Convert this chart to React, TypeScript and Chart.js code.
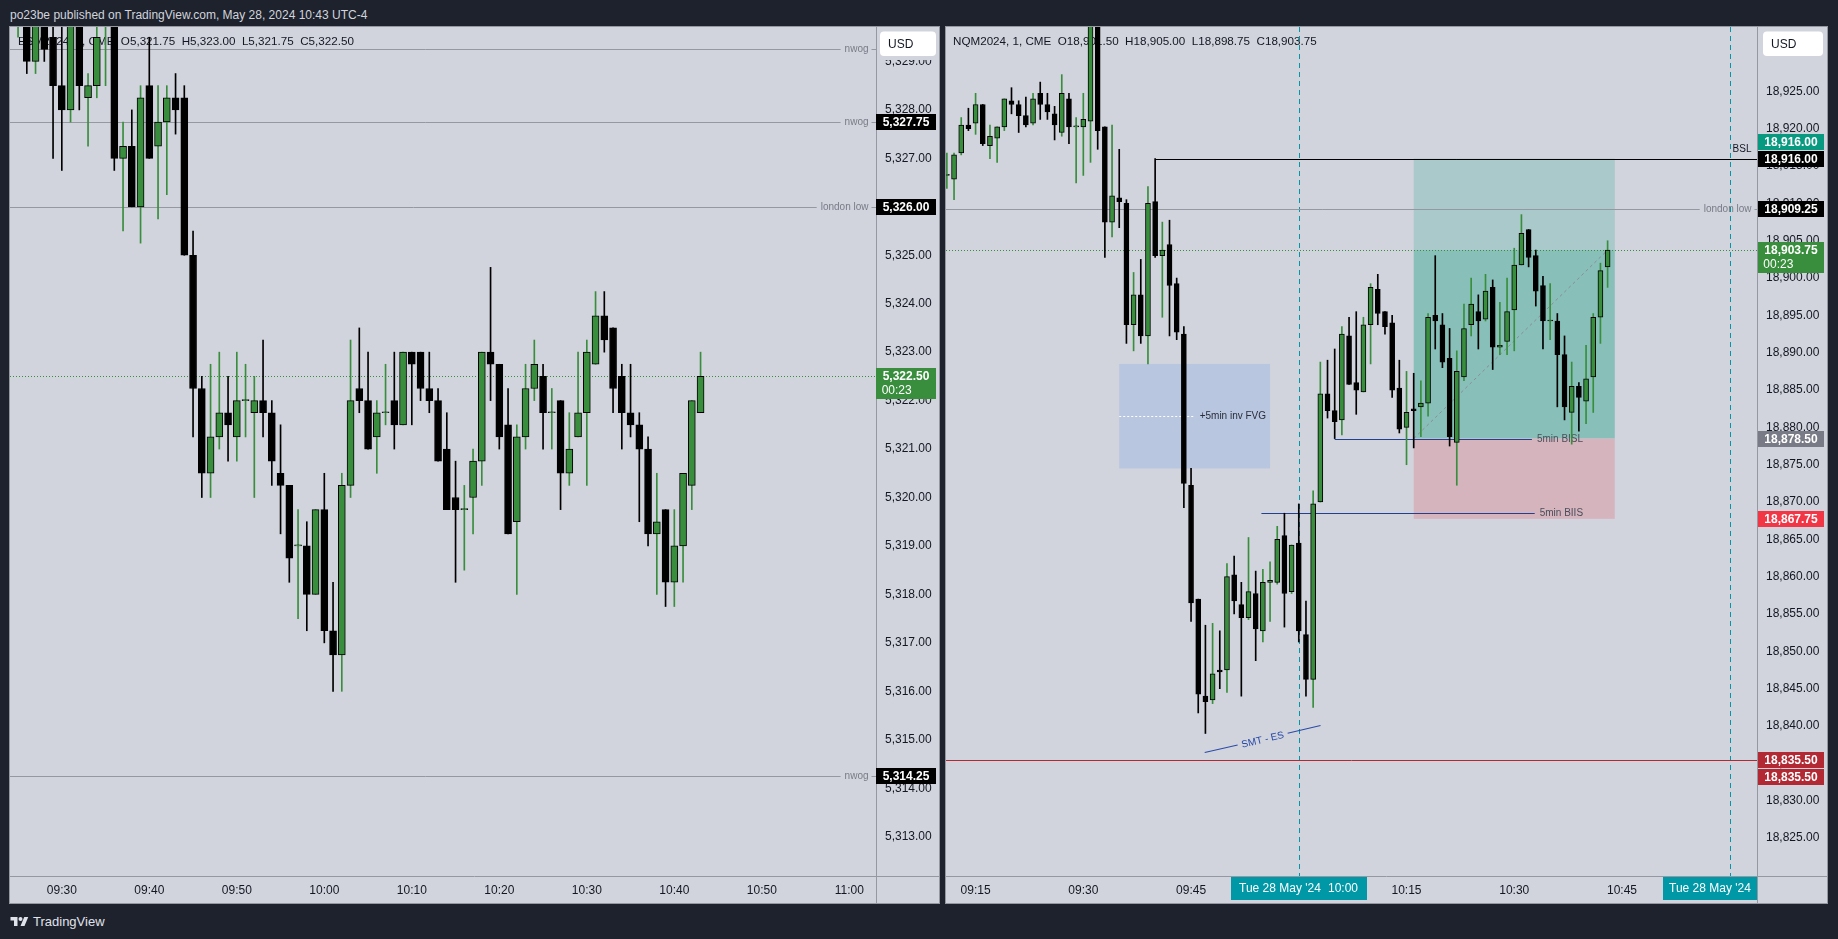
import React, { useEffect, useRef } from "react";
import { Chart, registerables } from "chart.js";

Chart.register(...registerables);

const FONT = '"Liberation Sans", Arial, sans-serif';
const PANE_BG = "#d1d4dc";
const PAGE_BG = "#1e222d";
const UP = "#388e3c";
const DOWN = "#000000";
const TEXT = "#131722";
const FRAME = "#9598a1";
const LEVEL = "#9598a1";
const LEVEL_TEXT = "#787b86";

// ---------------- ES (left pane), 1-minute, first bar 09:25 ----------------
const esStartMinute = 25; // minutes after 09:00
const esOpen = [
  5330.0, 5330.5, 5329.0, 5330.25, 5329.5, 5328.5, 5328.0, 5330.0, 5328.25, 5328.5,
  5330.0, 5330.75, 5327.0, 5327.25, 5326.0, 5328.5, 5327.25, 5327.75, 5328.25, 5328.25,
  5325.0, 5322.25, 5320.5, 5321.25, 5321.75, 5321.25, 5322.0, 5321.75, 5322.0, 5321.75,
  5320.5, 5320.25, 5319.0, 5319.0, 5318.0, 5319.75, 5317.25, 5316.75, 5320.25, 5322.25,
  5322.0, 5321.25, 5321.75, 5322.0, 5321.5, 5323.0, 5323.0, 5322.25, 5322.0, 5321.0,
  5320.0, 5319.75, 5320.0, 5320.75, 5323.0, 5322.75, 5321.5, 5319.5, 5321.25, 5322.25,
  5322.5, 5321.75, 5322.0, 5320.5, 5321.25, 5321.75, 5322.75, 5323.75, 5323.5, 5322.5,
  5321.75, 5321.5, 5321.0, 5319.25, 5319.75, 5318.25, 5319.0, 5320.25, 5321.75,
];
const esHigh = [
  5330.75, 5330.75, 5330.5, 5330.5, 5330.0, 5330.0, 5330.25, 5330.25, 5328.75, 5329.75,
  5331.0, 5331.0, 5327.75, 5328.0, 5328.5, 5329.5, 5328.5, 5328.5, 5328.75, 5328.5,
  5325.5, 5322.5, 5322.75, 5323.0, 5322.5, 5323.0, 5322.75, 5322.5, 5323.25, 5322.0,
  5321.5, 5320.25, 5319.75, 5319.5, 5319.75, 5320.5, 5318.25, 5320.5, 5323.25, 5323.5,
  5323.0, 5322.0, 5322.75, 5323.0, 5323.0, 5323.0, 5323.0, 5323.0, 5322.25, 5321.75,
  5320.75, 5320.25, 5321.0, 5323.0, 5324.75, 5322.75, 5322.25, 5321.5, 5322.75, 5323.25,
  5322.75, 5322.25, 5322.0, 5321.75, 5323.0, 5323.25, 5324.25, 5324.25, 5323.5, 5322.75,
  5322.75, 5321.75, 5321.25, 5320.5, 5319.75, 5319.75, 5320.5, 5322.0, 5323.0,
];
const esLow = [
  5329.5, 5328.75, 5328.75, 5329.0, 5327.0, 5326.75, 5327.75, 5328.0, 5327.25, 5328.25,
  5328.5, 5326.75, 5325.5, 5326.0, 5325.25, 5327.0, 5325.75, 5326.25, 5327.5, 5325.0,
  5321.25, 5320.0, 5320.0, 5321.0, 5320.75, 5320.75, 5321.25, 5320.0, 5321.25, 5320.25,
  5319.25, 5318.25, 5317.5, 5317.25, 5318.0, 5317.0, 5316.0, 5316.0, 5320.0, 5321.75,
  5321.0, 5320.5, 5321.5, 5321.0, 5321.5, 5321.5, 5322.0, 5321.75, 5320.75, 5319.75,
  5318.25, 5318.5, 5319.25, 5320.25, 5322.0, 5321.0, 5319.25, 5318.0, 5321.0, 5322.0,
  5321.0, 5321.0, 5319.75, 5320.25, 5321.25, 5320.25, 5322.75, 5323.0, 5321.75, 5321.0,
  5321.25, 5319.5, 5319.0, 5318.0, 5317.75, 5317.75, 5318.25, 5319.75, 5321.75,
];
const esClose = [
  5330.5, 5329.0, 5330.25, 5329.25, 5328.5, 5328.0, 5330.0, 5328.5, 5328.5, 5329.5,
  5330.75, 5327.0, 5327.25, 5326.0, 5328.25, 5327.0, 5327.75, 5328.25, 5328.0, 5325.0,
  5322.25, 5320.5, 5321.25, 5321.75, 5321.5, 5322.0, 5322.0, 5322.0, 5321.75, 5320.75,
  5320.25, 5318.75, 5319.0, 5318.0, 5319.75, 5317.25, 5316.75, 5320.25, 5322.0, 5322.0,
  5321.0, 5321.75, 5321.75, 5321.5, 5323.0, 5322.75, 5322.25, 5322.0, 5320.75, 5319.75,
  5319.75, 5319.75, 5320.75, 5323.0, 5322.75, 5321.25, 5319.25, 5321.25, 5322.25, 5322.75,
  5321.75, 5321.75, 5320.5, 5321.0, 5321.75, 5323.0, 5323.75, 5323.25, 5322.25, 5321.75,
  5321.5, 5321.0, 5319.25, 5319.5, 5318.25, 5319.0, 5320.5, 5322.0, 5322.5,
];
const esTimeTicks = [30, 40, 50, 60, 70, 80, 90, 100, 110, 120];
const esPriceTicks = [
  5313, 5314, 5315, 5316, 5317, 5318, 5319, 5320, 5321, 5322, 5323, 5324, 5325, 5326, 5327, 5328, 5329,
];
const esNwogLevels = [5329.25, 5327.75, 5314.25];
const esNwogBoxes = [5327.75, 5314.25];
const esLondonLow = 5326.0;

// ---------------- NQ (right pane), 1-minute, first bar 09:11 ----------------
const nqStartMinute = 11;
const nqOpen = [
  18913.75, 18913.25, 18916.75, 18920.5, 18920.75, 18923.25, 18917.75, 18918.75, 18920.25, 18923.75,
  18923.25, 18921.75, 18920.75, 18924.75, 18923.25, 18922.0, 18919.5, 18924.0, 18920.25, 18920.25,
  18921.0, 18935.5, 18920.25, 18907.5, 18910.75, 18910.0, 18893.75, 18897.75, 18892.25, 18910.25,
  18903.0, 18904.5, 18899.25, 18892.5, 18872.25, 18857.0, 18844.0, 18843.5, 18847.5, 18847.5,
  18860.25, 18856.25, 18854.5, 18857.75, 18852.75, 18859.25, 18859.25, 18865.5, 18858.0, 18864.5,
  18852.25, 18846.25, 18870.0, 18884.5, 18882.25, 18881.0, 18892.25, 18886.0, 18884.75, 18893.75,
  18898.5, 18895.5, 18894.0, 18885.25, 18880.0, 18882.5, 18882.75, 18883.25, 18895.0, 18893.75,
  18889.25, 18878.0, 18886.75, 18893.75, 18895.5, 18894.5, 18898.75, 18890.75, 18891.5, 18895.75,
  18901.75, 18906.5, 18903.0, 18899.0, 18894.25, 18894.25, 18889.75, 18882.0, 18885.5, 18883.5,
  18886.75, 18894.75, 18901.5,
];
const nqHigh = [
  18916.75, 18916.75, 18921.5, 18922.75, 18924.75, 18923.25, 18920.5, 18920.25, 18924.0, 18925.5,
  18923.75, 18924.25, 18924.75, 18926.25, 18924.75, 18923.0, 18927.25, 18924.75, 18921.5, 18924.75,
  18938.0, 18937.0, 18920.25, 18920.5, 18917.25, 18910.5, 18900.75, 18902.5, 18912.25, 18916.0,
  18907.5, 18907.75, 18900.0, 18893.5, 18874.5, 18857.0, 18853.5, 18853.75, 18852.75, 18861.75,
  18862.75, 18859.25, 18865.25, 18860.75, 18861.0, 18862.0, 18866.75, 18868.5, 18864.25, 18869.75,
  18856.75, 18871.5, 18888.75, 18889.0, 18890.5, 18893.5, 18894.75, 18895.5, 18894.75, 18899.25,
  18900.5, 18895.5, 18895.0, 18889.0, 18887.5, 18887.25, 18886.25, 18895.25, 18903.0, 18895.25,
  18893.25, 18890.25, 18896.5, 18900.0, 18897.75, 18900.5, 18899.75, 18896.75, 18900.0, 18904.0,
  18908.5, 18906.5, 18903.75, 18900.25, 18899.25, 18895.25, 18892.25, 18888.75, 18886.0, 18891.0,
  18895.25, 18902.0, 18905.0,
];
const nqLow = [
  18912.0, 18910.5, 18916.5, 18919.75, 18919.25, 18917.75, 18916.0, 18915.5, 18919.75, 18922.0,
  18919.5, 18920.25, 18920.5, 18921.25, 18921.25, 18918.5, 18919.0, 18918.0, 18912.75, 18913.75,
  18915.5, 18917.25, 18902.75, 18905.5, 18906.75, 18891.25, 18890.25, 18891.25, 18888.5, 18902.75,
  18894.75, 18892.25, 18891.75, 18869.25, 18854.0, 18841.75, 18839.0, 18843.0, 18845.0, 18844.5,
  18855.0, 18844.0, 18854.25, 18848.75, 18851.25, 18854.0, 18859.0, 18853.25, 18857.75, 18851.25,
  18844.0, 18842.5, 18870.0, 18881.25, 18878.5, 18879.0, 18885.75, 18881.75, 18884.75, 18888.5,
  18893.75, 18892.5, 18884.0, 18879.25, 18875.0, 18877.25, 18878.75, 18881.5, 18890.5, 18888.0,
  18877.5, 18872.25, 18886.25, 18892.25, 18890.5, 18894.25, 18887.75, 18889.75, 18889.75, 18890.25,
  18901.75, 18901.5, 18896.25, 18890.5, 18891.75, 18882.75, 18881.0, 18877.75, 18879.5, 18880.5,
  18882.0, 18891.25, 18898.75,
];
const nqClose = [
  18913.75, 18916.5, 18920.5, 18920.0, 18923.25, 18918.0, 18919.0, 18920.25, 18924.0, 18923.25,
  18921.75, 18920.5, 18924.0, 18923.25, 18922.25, 18920.5, 18924.75, 18920.25, 18920.25, 18921.25,
  18936.0, 18919.75, 18907.5, 18911.0, 18910.25, 18893.75, 18897.75, 18892.25, 18910.0, 18903.0,
  18903.75, 18899.0, 18892.75, 18872.5, 18856.5, 18844.25, 18843.25, 18847.0, 18847.25, 18860.0,
  18856.75, 18854.5, 18858.0, 18853.0, 18859.25, 18859.5, 18865.0, 18857.75, 18864.25, 18852.75,
  18846.25, 18869.75, 18884.5, 18882.25, 18880.75, 18892.5, 18885.75, 18885.0, 18893.75, 18898.75,
  18895.25, 18893.5, 18885.0, 18879.75, 18882.0, 18882.25, 18883.25, 18894.75, 18894.25, 18888.75,
  18878.75, 18887.5, 18893.25, 18896.5, 18894.25, 18898.25, 18890.75, 18891.0, 18895.5, 18901.75,
  18906.0, 18902.75, 18898.25, 18894.25, 18894.25, 18889.75, 18882.75, 18885.5, 18884.0, 18886.5,
  18894.75, 18901.0, 18903.75,
];
const nqTimeTicks = [15, 30, 45, 60, 75, 90, 105, 120];
const nqPriceTicks = [
  18825, 18830, 18835, 18840, 18845, 18850, 18855, 18860, 18865, 18870, 18875, 18880, 18885, 18890,
  18895, 18900, 18905, 18910, 18915, 18920, 18925,
];
const nqLondonLow = 18909.25;
const nqBsl = 18916.0;
const nqBslStartMinute = 40;
const nqRedLevel = 18835.5;
const nqBisl = 18878.5;
const nqBislStartMinute = 65;
const nqBiis = 18868.5;
const nqBiisStartMinute = 54.8;
const nqLabelEndMinute = 100;
const nqFvgMinutes = [35, 56];
const nqFvgPrices = [18888.5, 18874.5];
const nqPosMinutes = [76, 104];
const nqPosTarget = 18916.0;
const nqPosEntry = 18878.5;
const nqPosStop = 18867.75;
const nqSmtMinutes = [46.9, 63.03];
const nqSmtPrices = [18836.44, 18840.06];
const nqSessionMinutes = [60, 120];
const countdown = "00:23";

// ---------------- helpers ----------------
const fmt = (v: number) =>
  v.toLocaleString("en-US", { minimumFractionDigits: 2, maximumFractionDigits: 2 });
const hhmm = (m: number) => {
  const h = 9 + Math.floor(m / 60);
  const mm = Math.round(m % 60);
  return `${String(h).padStart(2, "0")}:${String(mm).padStart(2, "0")}`;
};

function candleDatasets(start: number, o: number[], h: number[], l: number[], c: number[], bodyW: number) {
  const up = o.map((v, i) => c[i] >= v);
  return [
    {
      type: "bar",
      label: "wick",
      data: o.map((_, i) => ({ x: start + i, y: [l[i], h[i]] })),
      backgroundColor: up.map((u) => (u ? UP : DOWN)),
      borderWidth: 0,
      barThickness: 1,
      grouped: false,
      order: 2,
    },
    {
      type: "bar",
      label: "body",
      data: o.map((v, i) => ({ x: start + i, y: [Math.min(v, c[i]), Math.max(v, c[i])] })),
      backgroundColor: up.map((u) => (u ? UP : DOWN)),
      borderColor: DOWN,
      borderWidth: 1,
      borderSkipped: false,
      barThickness: bodyW,
      minBarLength: 1,
      grouped: false,
      order: 1,
    },
  ];
}

function seg(ctx: CanvasRenderingContext2D, x0: number, y0: number, x1: number, y1: number) {
  ctx.beginPath();
  ctx.moveTo(x0, y0);
  ctx.lineTo(x1, y1);
  ctx.stroke();
}

function levelLine(
  ctx: CanvasRenderingContext2D,
  x0: number,
  x1: number,
  y: number,
  color: string,
  label?: string,
  labelColor?: string,
  rightPad = 7
) {
  const yy = Math.round(y) + 0.5;
  ctx.strokeStyle = color;
  ctx.lineWidth = 1;
  ctx.setLineDash([]);
  if (label) {
    ctx.font = `10px ${FONT}`;
    const w = ctx.measureText(label).width;
    const tr = x1 - rightPad;
    const tl = tr - w;
    seg(ctx, x0, yy, tl - 4, yy);
    seg(ctx, tr + 3, yy, x1, yy);
    ctx.fillStyle = labelColor || color;
    ctx.textAlign = "right";
    ctx.textBaseline = "middle";
    ctx.fillText(label, tr, yy);
  } else {
    seg(ctx, x0, yy, x1, yy);
  }
}

function dottedLine(ctx: CanvasRenderingContext2D, x0: number, x1: number, y: number, color: string) {
  const yy = Math.round(y) + 0.5;
  ctx.strokeStyle = color;
  ctx.lineWidth = 1;
  ctx.setLineDash([1, 2]);
  seg(ctx, x0, yy, x1, yy);
  ctx.setLineDash([]);
}

function priceBox(
  ctx: CanvasRenderingContext2D,
  x0: number,
  x1: number,
  yc: number,
  text: string,
  bg: string,
  fg: string,
  sub?: string
) {
  const top = Math.round(yc) - 8;
  const h = sub ? 31 : 16;
  ctx.fillStyle = bg;
  ctx.fillRect(x0, top, x1 - x0, h);
  ctx.fillStyle = fg;
  ctx.font = `bold 12px ${FONT}`;
  ctx.textAlign = "center";
  ctx.textBaseline = "middle";
  ctx.fillText(text, (x0 + x1) / 2, top + 8.5);
  if (sub) {
    ctx.font = `12px ${FONT}`;
    ctx.textAlign = "left";
    ctx.fillText(sub, (x0 + x1) / 2 - ctx.measureText(text).width / 2 - 1, top + 23);
  }
}

function usdBox(ctx: CanvasRenderingContext2D, axisLeft: number, axisRight: number, x0: number, x1: number, y0: number, y1: number) {
  // the price scale hides labels sitting right under the currency button
  ctx.fillStyle = PANE_BG;
  ctx.fillRect(axisLeft + 1, 1, axisRight - axisLeft - 2, y1 + 3);
  ctx.fillStyle = "#ffffff";
  ctx.beginPath();
  (ctx as any).roundRect(x0, y0, x1 - x0, y1 - y0, 4);
  ctx.fill();
  ctx.fillStyle = TEXT;
  ctx.font = `12px ${FONT}`;
  ctx.textAlign = "left";
  ctx.textBaseline = "middle";
  ctx.fillText("USD", x0 + 8, (y0 + y1) / 2 + 0.5);
}

function frame(chart: any, ctx: CanvasRenderingContext2D) {
  const a = chart.chartArea;
  const W = chart.width;
  const H = chart.height;
  ctx.strokeStyle = FRAME;
  ctx.lineWidth = 1;
  ctx.setLineDash([]);
  ctx.strokeRect(0.5, 0.5, W - 1, H - 1);
  seg(ctx, Math.round(a.right) + 0.5, 0, Math.round(a.right) + 0.5, H);
  seg(ctx, 0, Math.round(a.bottom) + 0.5, W, Math.round(a.bottom) + 0.5);
}

function decorPlugin(under: (c: any, ctx: CanvasRenderingContext2D) => void, over: (c: any, ctx: CanvasRenderingContext2D) => void) {
  return {
    id: "decor",
    beforeDraw(chart: any) {
      const ctx = chart.ctx;
      ctx.save();
      ctx.fillStyle = PANE_BG;
      ctx.fillRect(0, 0, chart.width, chart.height);
      ctx.restore();
    },
    beforeDatasetsDraw(chart: any) {
      const ctx = chart.ctx;
      const a = chart.chartArea;
      ctx.save();
      ctx.beginPath();
      ctx.rect(a.left, a.top, a.right - a.left, a.bottom - a.top);
      ctx.clip();
      under(chart, ctx);
      ctx.restore();
    },
    afterDraw(chart: any) {
      const ctx = chart.ctx;
      ctx.save();
      over(chart, ctx);
      ctx.restore();
    },
  };
}

function legendText(sym: string, o: number[], h: number[], l: number[], c: number[]) {
  const i = o.length - 1;
  return `${sym}  O${fmt(o[i])}  H${fmt(h[i])}  L${fmt(l[i])}  C${fmt(c[i])}`;
}

function baseOptions(xMin: number, xMax: number, xTicks: number[], yMin: number, yMax: number, yTicks: number[], yWidth: number) {
  return {
    animation: false,
    responsive: false,
    devicePixelRatio: 1,
    events: [],
    layout: { padding: { left: 1, top: 1, right: 0, bottom: 1 } },
    plugins: { legend: { display: false }, tooltip: { enabled: false } },
    scales: {
      x: {
        type: "linear",
        min: xMin,
        max: xMax,
        offset: false,
        grid: { display: false, drawTicks: false },
        border: { display: false },
        afterBuildTicks: (s: any) => {
          s.ticks = xTicks.map((v) => ({ value: v }));
        },
        afterFit: (s: any) => {
          s.height = 27;
          s.paddingLeft = 0;
          s.paddingRight = 0;
          s.paddingTop = 0;
          s.paddingBottom = 0;
        },
        ticks: {
          callback: (v: any) => hhmm(Number(v)),
          font: { family: FONT, size: 12 },
          color: TEXT,
          padding: 7,
          maxRotation: 0,
          autoSkip: false,
        },
      },
      y: {
        type: "linear",
        position: "right",
        min: yMin,
        max: yMax,
        beginAtZero: false,
        grid: { display: false, drawTicks: false },
        border: { display: false },
        afterBuildTicks: (s: any) => {
          s.ticks = yTicks.map((v) => ({ value: v }));
        },
        afterFit: (s: any) => {
          s.width = yWidth;
          s.paddingLeft = 0;
          s.paddingRight = 0;
          s.paddingTop = 0;
          s.paddingBottom = 0;
        },
        ticks: {
          callback: (v: any) => fmt(Number(v)),
          font: { family: FONT, size: 12 },
          color: TEXT,
          padding: 9,
          crossAlign: "center",
          autoSkip: false,
        },
      },
    },
  };
}

// ---------------- ES pane ----------------
function drawEsUnder(chart: any, ctx: CanvasRenderingContext2D) {
  const a = chart.chartArea;
  const Y = (p: number) => chart.scales.y.getPixelForValue(p);
  ctx.font = `11.65px ${FONT}`;
  ctx.fillStyle = TEXT;
  ctx.textAlign = "left";
  ctx.textBaseline = "middle";
  ctx.fillText(legendText("ESM2024, 1, CME", esOpen, esHigh, esLow, esClose), 9, 16);
  esNwogLevels.forEach((p) => levelLine(ctx, a.left, a.right, Y(p), LEVEL, "nwog", LEVEL_TEXT, 7.5));
  levelLine(ctx, a.left, a.right, Y(esLondonLow), LEVEL, "london low", LEVEL_TEXT, 7.5);
  dottedLine(ctx, a.left, a.right, Y(esClose[esClose.length - 1]), UP);
}

function drawEsOver(chart: any, ctx: CanvasRenderingContext2D) {
  const a = chart.chartArea;
  const Y = (p: number) => chart.scales.y.getPixelForValue(p);
  const x0 = Math.round(a.right);
  const x1 = x0 + 60;
  usdBox(ctx, x0, chart.width, x0 + 4, x1, 5.5, 30);
  frame(chart, ctx);
  esNwogBoxes.forEach((p) => priceBox(ctx, x0, x1, Y(p), fmt(p), "#000000", "#ffffff"));
  priceBox(ctx, x0, x1, Y(esLondonLow), fmt(esLondonLow), "#000000", "#ffffff");
  const last = esClose[esClose.length - 1];
  priceBox(ctx, x0, x1, Y(last), fmt(last), UP, "#ffffff", countdown);
}

function buildEs() {
  const opts: any = baseOptions(24.08, 123.05, esTimeTicks, 5312.188, 5329.711, esPriceTicks, 64);
  return {
    type: "bar",
    data: { datasets: candleDatasets(esStartMinute, esOpen, esHigh, esLow, esClose, 7) },
    options: opts,
    plugins: [decorPlugin(drawEsUnder, drawEsOver)],
  };
}

// ---------------- NQ pane ----------------
function drawNqUnder(chart: any, ctx: CanvasRenderingContext2D) {
  const a = chart.chartArea;
  const X = (m: number) => chart.scales.x.getPixelForValue(m);
  const Y = (p: number) => chart.scales.y.getPixelForValue(p);

  ctx.font = `11.65px ${FONT}`;
  ctx.fillStyle = TEXT;
  ctx.textAlign = "left";
  ctx.textBaseline = "middle";
  ctx.fillText(legendText("NQM2024, 1, CME", nqOpen, nqHigh, nqLow, nqClose), 8, 16);

  // FVG box
  const fx0 = X(nqFvgMinutes[0]);
  const fx1 = X(nqFvgMinutes[1]);
  const fy0 = Y(nqFvgPrices[0]);
  const fy1 = Y(nqFvgPrices[1]);
  ctx.fillStyle = "#b8c6e0";
  ctx.fillRect(fx0, fy0, fx1 - fx0, fy1 - fy0);
  ctx.font = `10px ${FONT}`;
  const fvgLabel = "+5min inv FVG";
  const fw = ctx.measureText(fvgLabel).width;
  const fmid = Math.round((fy0 + fy1) / 2) + 0.5;
  ctx.strokeStyle = "#ffffff";
  ctx.setLineDash([2, 2]);
  seg(ctx, fx0, fmid, fx1 - 4 - fw - 5, fmid);
  ctx.setLineDash([]);
  ctx.fillStyle = "#2a2e39";
  ctx.textAlign = "right";
  ctx.textBaseline = "middle";
  ctx.fillText(fvgLabel, fx1 - 4, fmid);

  // Long position tool
  const px0 = X(nqPosMinutes[0]);
  const px1 = X(nqPosMinutes[1]);
  const last = nqClose[nqClose.length - 1];
  ctx.fillStyle = "#a9c9ca";
  ctx.fillRect(px0, Y(nqPosTarget), px1 - px0, Y(last) - Y(nqPosTarget));
  ctx.fillStyle = "#88c0b9";
  ctx.fillRect(px0, Y(last), px1 - px0, Y(nqPosEntry) - Y(last));
  ctx.fillStyle = "#d6b4be";
  ctx.fillRect(px0, Y(nqPosEntry), px1 - px0, Y(nqPosStop) - Y(nqPosEntry));
  ctx.strokeStyle = "#8a8d96";
  ctx.setLineDash([3, 3]);
  seg(ctx, px0, Y(nqPosEntry), X(nqStartMinute + nqClose.length - 1), Y(last));
  ctx.setLineDash([]);

  // Session dashed verticals
  ctx.strokeStyle = "#0097a6";
  ctx.setLineDash([5, 4]);
  nqSessionMinutes.forEach((m) => {
    const x = Math.round(X(m)) + 0.5;
    seg(ctx, x, a.top, x, a.bottom);
  });
  ctx.setLineDash([]);

  // Levels
  levelLine(ctx, a.left, a.right, Y(nqLondonLow), LEVEL, "london low", LEVEL_TEXT, 5.5);
  levelLine(ctx, X(nqBslStartMinute), a.right, Y(nqBsl), "#000000");
  ctx.font = `10px ${FONT}`;
  ctx.fillStyle = TEXT;
  ctx.textAlign = "right";
  ctx.textBaseline = "middle";
  ctx.fillText("BSL", a.right - 5.5, Y(nqBsl) - 9);
  levelLine(ctx, a.left, a.right, Y(nqRedLevel), "#b22833");

  // BISL / BIIS lines
  const labelled = (startM: number, p: number, text: string) => {
    const y = Math.round(Y(p)) + 0.5;
    const xe = X(nqLabelEndMinute);
    ctx.font = `10px ${FONT}`;
    const w = ctx.measureText(text).width;
    const tr = xe - 3;
    const tl = tr - w;
    ctx.strokeStyle = "#233f8f";
    ctx.lineWidth = 1;
    seg(ctx, X(startM), y, tl - 5, y);
    seg(ctx, tr + 3, y, xe, y);
    ctx.fillStyle = "#4a4e59";
    ctx.textAlign = "right";
    ctx.textBaseline = "middle";
    ctx.fillText(text, tr, y);
  };
  labelled(nqBislStartMinute, nqBisl, "5min BISL");
  labelled(nqBiisStartMinute, nqBiis, "5min BIIS");

  // SMT - ES trend line with text
  const sx0 = X(nqSmtMinutes[0]);
  const sy0 = Y(nqSmtPrices[0]);
  const sx1 = X(nqSmtMinutes[1]);
  const sy1 = Y(nqSmtPrices[1]);
  const ang = Math.atan2(sy1 - sy0, sx1 - sx0);
  const len = Math.hypot(sx1 - sx0, sy1 - sy0);
  ctx.save();
  ctx.translate(sx0, sy0);
  ctx.rotate(ang);
  ctx.font = `10px ${FONT}`;
  const smt = "SMT - ES";
  const sw = ctx.measureText(smt).width;
  ctx.strokeStyle = "#2a4aa8";
  ctx.lineWidth = 1;
  seg(ctx, 0, 0, len / 2 - sw / 2 - 4, 0);
  seg(ctx, len / 2 + sw / 2 + 4, 0, len, 0);
  ctx.fillStyle = "#2a4aa8";
  ctx.textAlign = "center";
  ctx.textBaseline = "middle";
  ctx.fillText(smt, len / 2, 1);
  ctx.restore();

  dottedLine(ctx, a.left, a.right, Y(last), UP);
}

function drawNqOver(chart: any, ctx: CanvasRenderingContext2D) {
  const a = chart.chartArea;
  const X = (m: number) => chart.scales.x.getPixelForValue(m);
  const Y = (p: number) => chart.scales.y.getPixelForValue(p);
  const x0 = Math.round(a.right) + 1;
  const x1 = x0 + 66;
  usdBox(ctx, x0 - 1, chart.width, x0 + 5, x0 + 65, 5.5, 30);
  frame(chart, ctx);
  priceBox(ctx, x0, x1, Y(nqBsl), fmt(nqBsl), "#000000", "#ffffff");
  priceBox(ctx, x0, x1, Y(nqBsl) - 17, fmt(nqPosTarget), "#089981", "#ffffff");
  priceBox(ctx, x0, x1, Y(nqLondonLow), fmt(nqLondonLow), "#000000", "#ffffff");
  priceBox(ctx, x0, x1, Y(nqPosEntry), fmt(nqPosEntry), "#787b86", "#ffffff");
  priceBox(ctx, x0, x1, Y(nqPosStop), fmt(nqPosStop), "#f23645", "#ffffff");
  priceBox(ctx, x0, x1, Y(nqRedLevel), fmt(nqRedLevel), "#b22833", "#ffffff");
  priceBox(ctx, x0, x1, Y(nqRedLevel) + 17, fmt(nqRedLevel), "#b22833", "#ffffff");
  const last = nqClose[nqClose.length - 1];
  priceBox(ctx, x0, x1, Y(last), fmt(last), UP, "#ffffff", countdown);

  // time axis session boxes
  const by = Math.round(a.bottom) + 1;
  const bh = 23;
  ctx.font = `12px ${FONT}`;
  ctx.textBaseline = "middle";
  const c0 = X(nqSessionMinutes[0]);
  ctx.fillStyle = "#0097a6";
  ctx.fillRect(Math.round(c0 - 68), by, 136, bh);
  ctx.fillStyle = "#ffffff";
  ctx.textAlign = "left";
  ctx.fillText("Tue 28 May '24", Math.round(c0 - 60), by + bh / 2);
  ctx.textAlign = "right";
  ctx.fillText(hhmm(nqSessionMinutes[0]), Math.round(c0 + 59), by + bh / 2);
  const r = Math.round(a.right);
  ctx.fillStyle = "#0097a6";
  ctx.fillRect(r - 94, by, 94, bh);
  ctx.fillStyle = "#ffffff";
  ctx.textAlign = "center";
  ctx.fillText("Tue 28 May '24", r - 47, by + bh / 2);
}

function buildNq() {
  const opts: any = baseOptions(10.88, 123.8, nqTimeTicks, 18819.91, 18933.63, nqPriceTicks, 71);
  return {
    type: "bar",
    data: { datasets: candleDatasets(nqStartMinute, nqOpen, nqHigh, nqLow, nqClose, 5) },
    options: opts,
    plugins: [decorPlugin(drawNqUnder, drawNqOver)],
  };
}

// ---------------- React ----------------
function Pane(props: { left: number; top: number; width: number; height: number; build: () => any }) {
  const ref = useRef<HTMLCanvasElement>(null);
  useEffect(() => {
    const chart = new Chart(ref.current as HTMLCanvasElement, props.build());
    return () => chart.destroy();
  }, []);
  return (
    <canvas
      ref={ref}
      width={props.width}
      height={props.height}
      style={{ position: "absolute", left: props.left, top: props.top, width: props.width, height: props.height }}
    />
  );
}

export default function App() {
  return (
    <div
      style={{
        position: "fixed",
        left: 0,
        top: 0,
        width: 1838,
        height: 939,
        background: PAGE_BG,
        overflow: "hidden",
        fontFamily: FONT,
      }}
    >
      <div style={{ position: "absolute", left: 10, top: 6, fontSize: 12, lineHeight: "18px", color: "#d1d4dc", whiteSpace: "nowrap" }}>
        po23be published on TradingView.com, May 28, 2024 10:43 UTC-4
      </div>
      <Pane left={9} top={26} width={931} height={878} build={buildEs} />
      <Pane left={945} top={26} width={883} height={878} build={buildNq} />
      <svg style={{ position: "absolute", left: 10, top: 915 }} width="19" height="14" viewBox="0 0 36 28">
        <path d="M14 22H7V11H0V4h14v18z" fill="#e0e3eb" />
        <circle cx="20" cy="8" r="4" fill="#e0e3eb" />
        <path d="M28 22h-8l7.5-18h8L28 22z" fill="#e0e3eb" />
      </svg>
      <div style={{ position: "absolute", left: 33, top: 913, fontSize: 13, lineHeight: "18px", color: "#e0e3eb", whiteSpace: "nowrap" }}>
        TradingView
      </div>
    </div>
  );
}
